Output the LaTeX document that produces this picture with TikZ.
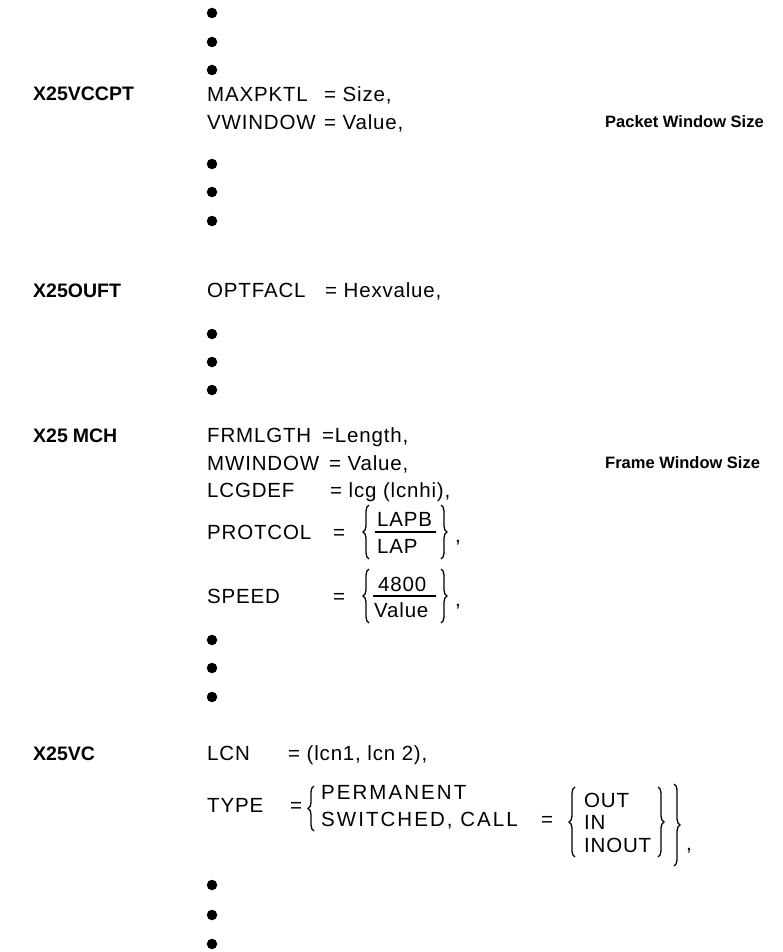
\documentclass[tikz,border=0pt]{standalone}
\usepackage{fontspec}
\usetikzlibrary{decorations.pathreplacing}
\setmainfont{Liberation Sans}
\newfontfamily\pfam[LetterSpace=4]{Liberation Sans}
\newfontfamily\pfamw[LetterSpace=10]{Liberation Sans}
\begin{document}
\begin{tikzpicture}[x=1pt,y=-1pt]
\tikzset{
  lbl/.style={anchor=west, inner sep=0pt, text height=14pt, text depth=0pt, font=\fontsize{19.5}{23}\selectfont\bfseries},
  prm/.style={anchor=west, inner sep=0pt, text height=14.6pt, text depth=0pt, font=\pfam\fontsize{20.5}{24}\selectfont},
  prmw/.style={prm, font=\pfamw\fontsize{20.5}{24}\selectfont},
  note/.style={anchor=west, inner sep=0pt, text height=11.8pt, text depth=0pt, font=\fontsize{16.5}{20}\selectfont\bfseries},
  dot/.style={circle, fill=black, inner sep=0pt, minimum size=10.5pt},
  cbrace/.style={decorate, decoration={brace, amplitude=6pt, aspect=0.5}, line width=1.3pt},
  bar/.style={line width=1.2pt}
}
\fill[white] (0,0) rectangle (782,952);
% group 1
\node[dot] (d1) at (212,13) {};
\node[dot] (d2) at (212,42) {};
\node[dot] (d3) at (212,70) {};
\node[lbl] (l1) at (33,94) {X25VCCPT};
\node[prm] (a1) at (207,94) {MAXPKTL};
\node[prm] (v1) at (324,94) {= Size,};
\node[prm] (a2) at (207,122) {VWINDOW};
\node[prm] (v2) at (324,122) {= Value,};
\node[note] (n1) at (605,122) {Packet Window Size};
\node[dot] (d4) at (212,164) {};
\node[dot] (d5) at (212,192) {};
\node[dot] (d6) at (212,221) {};
% group 2
\node[lbl] (l2) at (33,290) {X25OUFT};
\node[prm] (a3) at (207,290) {OPTFACL};
\node[prm] (v3) at (325,290) {= Hexvalue,};
\node[dot] (d7) at (212,334) {};
\node[dot] (d8) at (212,362) {};
\node[dot] (d9) at (212,390) {};
% group 3
\node[lbl] (l3) at (33,435) {X25\kern5pt MCH};
\node[prm] (a4) at (207,435) {FRMLGTH};
\node[prm] (v4) at (322,435) {=Length,};
\node[prm] (a5) at (207,463) {MWINDOW};
\node[prm] (v5) at (329,463) {= Value,};
\node[note] (n2) at (605,463) {Frame Window Size};
\node[prm] (a6) at (207,490) {LCGDEF};
\node[prm] (v6) at (330,490) {= lcg (lcnhi),};
% PROTCOL
\node[prm] (a7) at (207,532) {PROTCOL};
\node[prm] (e7) at (333,532) {=};
\node[prm] (f7a) at (377,519) {LAPB};
\node[prm] (f7b) at (377,546) {LAP};
\coordinate (p7a) at (375,532);
\coordinate (p7b) at (436,532);
\draw[bar] (p7a) -- (p7b);
\coordinate (b7lt) at (369,505);
\coordinate (b7lb) at (369,559);
\draw[cbrace] (b7lb) -- (b7lt);
\coordinate (b7rt) at (441,505);
\coordinate (b7rb) at (441,559);
\draw[cbrace] (b7rt) -- (b7rb);
\node[prm] (c7) at (455,535) {,};
% SPEED
\node[prm] (a8) at (207,596) {SPEED};
\node[prm] (e8) at (333,596) {=};
\node[prm] (f8a) at (378,584) {4800};
\node[prm] (f8b) at (374,610) {Value};
\coordinate (p8a) at (373,596);
\coordinate (p8b) at (436,596);
\draw[bar] (p8a) -- (p8b);
\coordinate (b8lt) at (369,569);
\coordinate (b8lb) at (369,623);
\draw[cbrace] (b8lb) -- (b8lt);
\coordinate (b8rt) at (441,569);
\coordinate (b8rb) at (441,623);
\draw[cbrace] (b8rt) -- (b8rb);
\node[prm] (c8) at (455,599) {,};
\node[dot] (d10) at (212,640) {};
\node[dot] (d11) at (212,668) {};
\node[dot] (d12) at (212,697) {};
% group 4
\node[lbl] (l4) at (33,753) {X25VC};
\node[prm] (a9) at (207,753) {LCN};
\node[prm] (v9) at (288,753) {= (lcn1, lcn 2),};
\node[prm] (a10) at (207,805) {TYPE};
\node[prm] (e10) at (290,805) {=};
\coordinate (b10lt) at (314,786);
\coordinate (b10lb) at (314,831);
\draw[cbrace] (b10lb) -- (b10lt);
\node[prmw] (t1) at (321,792) {PERMANENT};
\node[prmw] (t2) at (321,819) {SWITCHED, CALL};
\node[prm] (e11) at (541,819) {=};
\coordinate (b11lt) at (575,787);
\coordinate (b11lb) at (575,857);
\draw[cbrace] (b11lb) -- (b11lt);
\node[prm] (o1) at (584,800) {OUT};
\node[prm] (o2) at (584,822) {IN};
\node[prm] (o3) at (584,845) {INOUT};
\coordinate (b11rt) at (658,787);
\coordinate (b11rb) at (658,857);
\draw[cbrace] (b11rt) -- (b11rb);
\coordinate (b10rt) at (674,784);
\coordinate (b10rb) at (674,866);
\draw[cbrace] (b10rt) -- (b10rb);
\node[prm] (c10) at (686,843) {,};
\node[dot] (d13) at (212,885) {};
\node[dot] (d14) at (212,915) {};
\node[dot] (d15) at (212,944) {};
\end{tikzpicture}
\end{document}
